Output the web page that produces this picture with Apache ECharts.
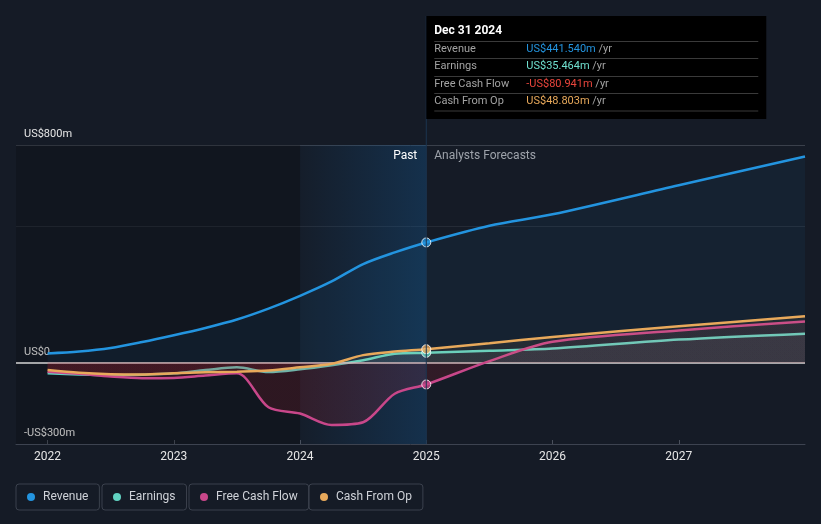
<!DOCTYPE html>
<html>
<head>
<meta charset="utf-8">
<title>Revenue, earnings and cash flow</title>
<script src="https://cdn.jsdelivr.net/npm/echarts@6/dist/echarts.min.js"></script>
<style>
  html, body { margin: 0; padding: 0; background: #151b26; }
  #chart { width: 821px; height: 524px; }
</style>
</head>
<body>
<div id="chart"></div>
<script>
// past figures, quarterly (fractional year)
const pastYears = [2022, 2022.25, 2022.5, 2022.75, 2023, 2023.25, 2023.5, 2023.75, 2024, 2024.25, 2024.5, 2024.75, 2025];
const revenuePast = [33, 40, 53, 75, 100, 127, 158, 198, 245, 298, 362, 405, 441.54];
const earningsPast = [-40, -44, -46, -45, -40, -28, -18, -35, -25, -10, 8, 32, 35.464];
const fcfPast = [-34, -42, -52, -58, -57, -48, -40, -165, -188, -230, -220, -115, -80.941];
const cfoPast = [-28, -38, -43, -44, -40, -36, -34, -30, -18, -5, 27, 40, 48.803];

// analysts forecasts
const forecastYears = [2025.5, 2026, 2027, 2028];
const revenueFc = [503, 545, 652, 758];
const earningsFc = [43, 51, 84, 106];
const fcfFc = [5, 76, 118, 151];
const cfoFc = [71, 94, 133, 170];

// axes
const xMin = 2021.75, xMax = 2028;
const xTicks = [2022, 2023, 2024, 2025, 2026, 2027];
const yLabelValues = [-300, 0, 800];
const pastEnd = 2025, bandStart = 2024;

const seriesNames = ['Revenue', 'Earnings', 'Free Cash Flow', 'Cash From Op'];
const seriesColors = ['#2394df', '#62d3c2', '#c8478a', '#e8a95b'];
const tipColors = ['#2394df', '#6fe0cf', '#e8453c', '#e8a95b'];
const tipDate = 'Dec 31 2024';

const chart = echarts.init(document.getElementById('chart'));

const xs = pastYears.concat(forecastYears);
function pairs(past, fc) {
  return xs.map((x, i) => [x, i < past.length ? past[i] : fc[i - past.length]]);
}

// fill colour changes at zero: own colour above, red below
function signFill(values, posColor, negColor) {
  const max = Math.max(...values, 0), min = Math.min(...values, 0);
  const f = max / (max - min);
  return new echarts.graphic.LinearGradient(0, 0, 0, 1, [
    { offset: 0, color: posColor }, { offset: f, color: posColor },
    { offset: f, color: negColor }, { offset: 1, color: negColor }
  ]);
}

function money(v) {
  return (v < 0 ? '-US$' : 'US$') + Math.abs(v).toFixed(3) + 'm';
}
function axisMoney(v) {
  if (v === 0) return 'US$0';
  return (v < 0 ? '-US$' : 'US$') + Math.abs(v) + 'm';
}

const splitColors = [];
for (let v = -300; v <= 800; v += 100) {
  if (v === 800) splitColors.push('#3a404b');
  else if (v === 500) splitColors.push('#252b36');
  else splitColors.push('rgba(0,0,0,0)');
}

function lineSeries(idx, data, area) {
  return {
    name: seriesNames[idx],
    type: 'line',
    data: data,
    smooth: 0.3,
    symbol: 'none',
    z: 3 + idx,
    lineStyle: { color: seriesColors[idx], width: 2.5 },
    itemStyle: { color: seriesColors[idx] },
    areaStyle: area,
    emphasis: { disabled: true }
  };
}

const revData = pairs(revenuePast, revenueFc);
const earnData = pairs(earningsPast, earningsFc);
const fcfData = pairs(fcfPast, fcfFc);
const cfoData = pairs(cfoPast, cfoFc);

const legendLeft = [16, 102, 189, 309];

const option = {
  backgroundColor: '#151b26',
  animation: false,
  textStyle: { fontFamily: 'Roboto' },
  grid: { left: 16, right: 16, top: 145, bottom: 80, containLabel: false, outerBoundsMode: 'none' },
  legend: seriesNames.map((n, i) => ({
    data: [n],
    left: legendLeft[i],
    top: 484,
    icon: 'circle',
    itemWidth: 8,
    itemHeight: 8,
    selectedMode: false,
    borderColor: '#3b414d',
    borderWidth: 1,
    borderRadius: 3,
    padding: [7, 11, 7, 11],
    textStyle: { color: '#cfd2d8', fontSize: 12, fontFamily: 'Roboto', padding: [0, 0, 0, 3] }
  })),
  xAxis: {
    type: 'value',
    min: xMin,
    max: xMax,
    axisLine: { onZero: false, lineStyle: { color: '#3d4350' } },
    axisTick: { customValues: xTicks, inside: true, length: 4, lineStyle: { color: '#4a505c' } },
    axisLabel: { customValues: xTicks, color: '#e6e6e6', fontSize: 12, margin: 7, formatter: v => String(v) },
    splitLine: { show: false }
  },
  yAxis: {
    type: 'value',
    min: -300,
    max: 800,
    interval: 100,
    axisLine: { show: false },
    axisTick: { show: false },
    axisLabel: {
      inside: true,
      margin: 8,
      verticalAlign: 'bottom',
      padding: [0, 0, 5, 0],
      color: '#e6e6e6',
      fontSize: 11,
      formatter: v => (yLabelValues.includes(v) ? axisMoney(v) : '')
    },
    splitLine: { lineStyle: { color: splitColors, width: 1 } }
  },
  series: [
    Object.assign(lineSeries(0, revData, { color: 'rgba(35,148,223,0.09)' }), {
      markArea: {
        silent: true,
        data: [
          [{ xAxis: xMin, itemStyle: { color: 'rgba(0,0,0,0.18)' } }, { xAxis: bandStart }],
          [{
            xAxis: bandStart, name: 'Past',
            itemStyle: {
              color: new echarts.graphic.LinearGradient(0, 0, 1, 0, [
                { offset: 0, color: 'rgba(20,90,150,0.04)' },
                { offset: 1, color: 'rgba(20,90,150,0.34)' }
              ])
            },
            label: { show: true, position: 'insideTopRight', offset: [-4, 0], color: '#ffffff', fontSize: 12 }
          }, { xAxis: pastEnd }],
          [{
            xAxis: pastEnd, name: 'Analysts Forecasts',
            itemStyle: { color: 'rgba(0,0,0,0)' },
            label: { show: true, position: 'insideTopLeft', offset: [3, 0], color: '#9ea3ab', fontSize: 12 }
          }, { xAxis: xMax }]
        ]
      },
      markLine: {
        silent: true,
        symbol: ['none', 'none'],
        label: { show: false },
        lineStyle: { color: '#d6d6d6', width: 1.5, type: 'solid' },
        data: [{ yAxis: 0 }]
      }
    }),
    lineSeries(1, earnData, { color: signFill(earningsPast.concat(earningsFc), 'rgba(200,200,210,0.1)', 'rgba(170,30,45,0.12)') }),
    lineSeries(2, fcfData, { color: signFill(fcfPast.concat(fcfFc), 'rgba(200,72,138,0.09)', 'rgba(175,30,45,0.26)') }),
    lineSeries(3, cfoData, { color: signFill(cfoPast.concat(cfoFc), 'rgba(232,169,91,0.1)', 'rgba(170,30,45,0.12)') }),
    {
      type: 'scatter',
      z: 10,
      symbolSize: 9,
      silent: true,
      itemStyle: { borderColor: '#ffffff', borderWidth: 1 },
      data: [
        { value: [pastEnd, revenuePast[revenuePast.length - 1]], itemStyle: { color: seriesColors[0] } },
        { value: [pastEnd, fcfPast[fcfPast.length - 1]], itemStyle: { color: seriesColors[2] } },
        { value: [pastEnd, earningsPast[earningsPast.length - 1]], itemStyle: { color: seriesColors[1] } },
        { value: [pastEnd, cfoPast[cfoPast.length - 1]], itemStyle: { color: seriesColors[3] } }
      ]
    }
  ]
};

chart.setOption(option);

// fixed tooltip box at the last reported point
const px = chart.convertToPixel({ gridIndex: 0 }, [pastEnd, 0])[0];
const bottomY = chart.convertToPixel({ gridIndex: 0 }, [pastEnd, -300])[1];
const boxTop = 16, boxW = 340, boxH = 103;
const lastValues = [
  revenuePast[revenuePast.length - 1],
  earningsPast[earningsPast.length - 1],
  fcfPast[fcfPast.length - 1],
  cfoPast[cfoPast.length - 1]
];
const rowY = [49.5, 66.5, 84, 101];
const sepY = [41.5, 58.5, 76.5, 93.5, 111];

const graphics = [
  { type: 'line', z: 50, silent: true, shape: { x1: px, y1: boxTop, x2: px, y2: bottomY }, style: { stroke: '#1c3550', lineWidth: 1 } },
  { type: 'rect', z: 51, silent: true, shape: { x: px, y: boxTop, width: boxW, height: boxH }, style: { fill: '#000000' } },
  { type: 'text', z: 52, silent: true, style: { x: px + 8, y: 31, text: tipDate, fill: '#ffffff', font: 'bold 12px Roboto', verticalAlign: 'middle' } }
];
sepY.forEach(y => {
  graphics.push({ type: 'line', z: 52, silent: true, shape: { x1: px + 8, y1: y, x2: px + boxW - 8, y2: y }, style: { stroke: '#3a3a3a', lineWidth: 1 } });
});
seriesNames.forEach((n, i) => {
  graphics.push({ type: 'text', z: 52, silent: true, style: { x: px + 8, y: rowY[i], text: n, fill: '#a3a3a3', font: '11px Roboto', verticalAlign: 'middle' } });
  graphics.push({
    type: 'text', z: 52, silent: true,
    style: {
      x: px + 100, y: rowY[i], verticalAlign: 'middle',
      text: '{v|' + money(lastValues[i]) + '} {u|/yr}',
      font: '11px Roboto',
      rich: {
        v: { fill: tipColors[i], font: '11px Roboto' },
        u: { fill: '#a3a3a3', font: '11px Roboto' }
      }
    }
  });
});
chart.setOption({ graphic: graphics });
</script>
</body>
</html>
